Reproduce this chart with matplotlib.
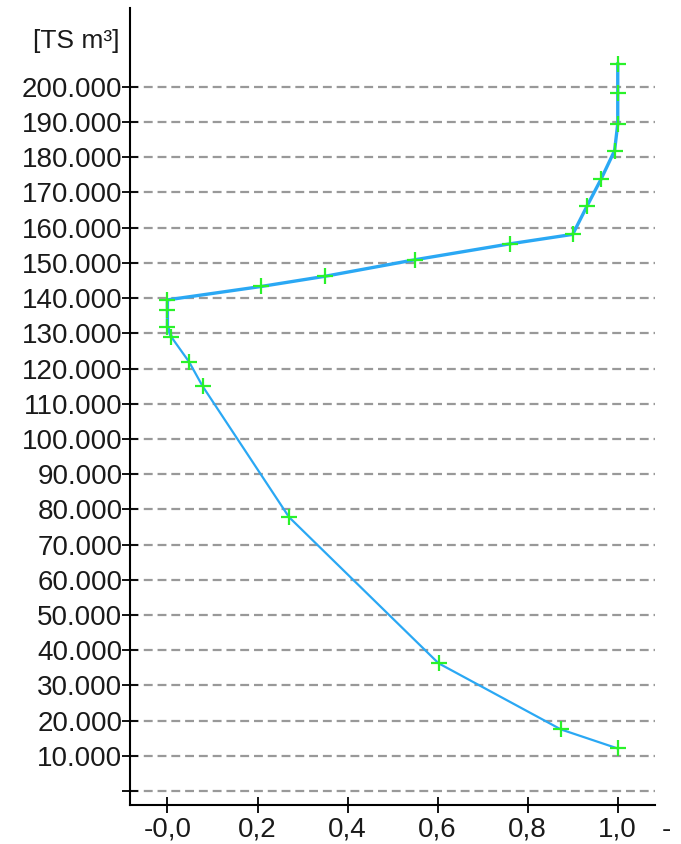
import matplotlib
matplotlib.use("Agg")
import matplotlib.pyplot as plt
import matplotlib.ticker as ticker

# share of value (x) against cumulative volume in TS m3 (y)
share = [1.0, 1.0, 1.0, 0.993, 0.963, 0.932, 0.90, 0.76, 0.55, 0.35, 0.208,
         0.0, 0.0, 0.0, 0.009, 0.048, 0.078, 0.27, 0.602, 0.874, 1.0]
volume = [206500, 198300, 189500, 181900, 173800, 166200, 158100, 155400,
          150900, 146200, 143300, 139500, 136500, 131900, 128900, 121900,
          115000, 77800, 36300, 17500, 12100]
# the upper part of the curve is drawn with a heavier line
split = 14

y_ticks = list(range(0, 200001, 10000))
x_ticks = [0.0, 0.2, 0.4, 0.6, 0.8, 1.0]
x_labels = ["-0,0", "0,2", "0,4", "0,6", "0,8", "1,0"]


@ticker.FuncFormatter
def volume_formatter(v, pos):
    if v <= 0:
        return ""
    return f"{int(v):,}".replace(",", ".")


plt.rcParams["font.family"] = ["Liberation Sans", "DejaVu Sans"]

fig = plt.figure(figsize=(6.81, 8.44), dpi=100)
ax = fig.add_axes([0.191, 0.046, 0.771, 0.945])

for v in y_ticks:
    ax.axhline(v, color="#999999", lw=1.6, ls=(0, (4, 2.2)), zorder=1)

ax.plot(share[split:], volume[split:], color="#2aa8f4", lw=1.6, zorder=2)
ax.plot(share[:split + 1], volume[:split + 1], color="#2aa8f4", lw=2.4, zorder=2)
ax.plot(share, volume, ls="none", marker="+", color="#2af22a",
        markersize=11, mew=1.6, zorder=3)

ax.set_xlim(-0.083, 1.083)
ax.set_ylim(-4000, 222500)
ax.set_yticks(y_ticks)
ax.yaxis.set_major_formatter(volume_formatter)
ax.set_xticks(x_ticks)
ax.set_xticklabels(x_labels)

for s in ["top", "right"]:
    ax.spines[s].set_visible(False)
for s in ["left", "bottom"]:
    ax.spines[s].set_linewidth(1.5)
ax.tick_params(direction="inout", length=11, width=1.3, labelsize=20,
               labelcolor="#1a1a1a", pad=0)
ax.tick_params(axis="x", pad=3)

fig.text(0.175, 0.952, "[TS m³]", ha="right", va="center", fontsize=19,
         color="#1a1a1a")
fig.text(0.978, 0.016, "-", ha="center", va="center", fontsize=20,
         color="#1a1a1a")

fig.savefig("out.png", dpi=100)
